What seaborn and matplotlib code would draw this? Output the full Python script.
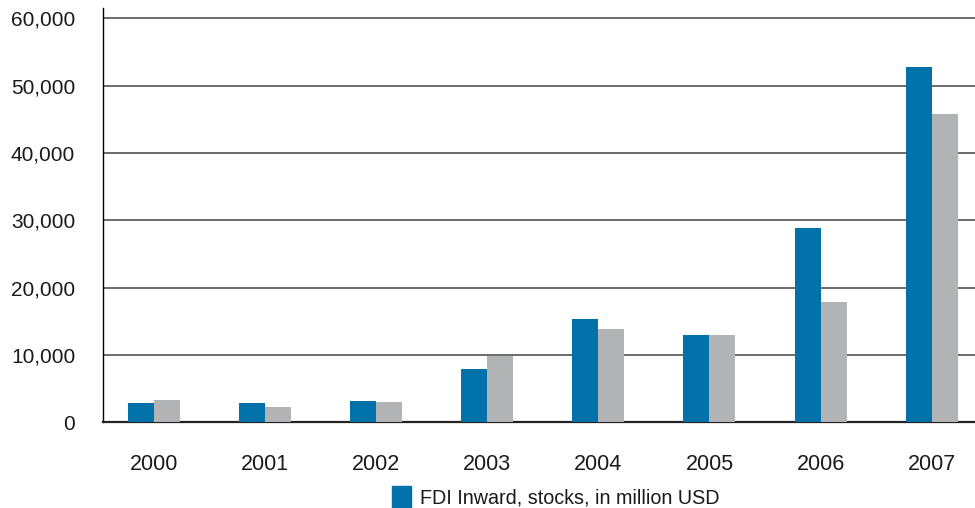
import numpy as np
import seaborn as sns
import matplotlib.pyplot as plt
import matplotlib.patches as mpatches
import pandas as pd

# FDI stocks, million USD
years = ['2000', '2001', '2002', '2003', '2004', '2005', '2006', '2007']
fdi_inward = [2800, 2800, 3100, 7900, 15300, 12900, 28800, 52700]
fdi_other = [3300, 2200, 3000, 9900, 13800, 12900, 17800, 45800]
series_names = ['FDI Inward, stocks, in million USD', 'FDI Outward']

df = pd.DataFrame({
    'year': years * 2,
    'value': fdi_inward + fdi_other,
    'series': [series_names[0]] * len(years) + [series_names[1]] * len(years),
})

sns.set_style('white')
plt.rcParams['font.family'] = ['Liberation Sans', 'DejaVu Sans']

blue = '#0071a9'
grey = '#b2b3b5'
txt = '#1a1a1a'

fig = plt.figure(figsize=(9.75, 5.08), dpi=100)
ax = fig.add_axes([0.1056, 0.169, 0.8944, 0.815])

sns.barplot(data=df, x='year', y='value', hue='series', palette=[blue, grey],
            width=0.468, saturation=1, linewidth=0, ax=ax, legend=False, zorder=3)

ax.set_xlim(-0.459, 7.39)
ax.set_ylim(0, 61500)
ax.set_yticks(np.arange(0, 60001, 10000))
ax.set_yticklabels([f'{v:,}' for v in range(0, 60001, 10000)])
ax.yaxis.grid(True, color='#444444', linewidth=1.1, zorder=0)
ax.set_axisbelow(True)

ax.set_xlabel('')
ax.set_ylabel('')
ax.tick_params(axis='y', length=0, pad=20, labelsize=15, colors=txt)
ax.tick_params(axis='x', length=0, pad=23, labelsize=15.5, colors=txt)

for s in ['top', 'right']:
    ax.spines[s].set_visible(False)
ax.spines['left'].set_color('black')
ax.spines['left'].set_linewidth(1.0)
ax.spines['bottom'].set_color('#222222')
ax.spines['bottom'].set_linewidth(1.6)

# legend only for the blue series
handle = mpatches.Patch(color=blue, label=series_names[0])
fig.legend(handles=[handle], loc='center', bbox_to_anchor=(0.57, 0.022),
           frameon=False, fontsize=14.2, handlelength=0.95, handleheight=1.35,
           handletextpad=0.45, labelcolor=txt)

fig.savefig('out.png', dpi=100)
